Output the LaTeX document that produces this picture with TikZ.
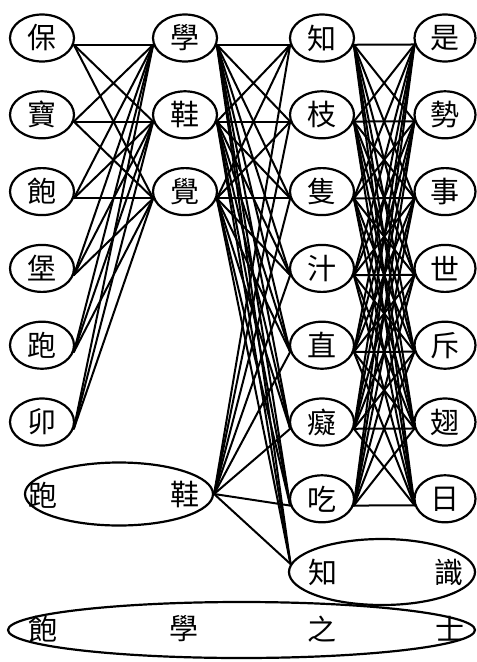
\documentclass[tikz,border=0pt]{standalone}
\usepackage{fontspec}
\newfontfamily\cjk{Noto Sans CJK TC}
\usetikzlibrary{shapes.geometric}

\tikzset{
  word/.style={ellipse, draw, line width=2.2pt, minimum width=64pt,
    minimum height=47pt, inner sep=0pt, font=\cjk\fontsize{29}{29}\selectfont},
  frame/.style={ellipse, draw, line width=2.2pt, inner sep=0pt},
  glyph/.style={inner sep=0pt, font=\cjk\fontsize{29}{29}\selectfont},
  link/.style={line width=2pt, line cap=round}
}

\begin{document}
\begin{tikzpicture}[x=1pt,y=-1pt]
  \useasboundingbox (0,0) rectangle (477,662);

  % first character candidates
  \foreach \t [count=\i from 0] in {保,寶,飽,堡,跑,卯}
    \node[word] (a\i) at (42, 38+76.8*\i) {\t};
  % second character candidates
  \foreach \t [count=\i from 0] in {學,鞋,覺}
    \node[word] (b\i) at (185, 38+76.8*\i) {\t};
  % third character candidates
  \foreach \t [count=\i from 0] in {知,枝,隻,汁,直,癡,吃}
    \node[word] (c\i) at (322, 38+76.8*\i) {\t};
  % fourth character candidates
  \foreach \t [count=\i from 0] in {是,勢,事,世,斥,翅,日}
    \node[word, minimum width=61pt] (d\i) at (445, 38+76.8*\i) {\t};

  % two-character words
  \node[frame, minimum width=188pt, minimum height=63pt] (bb) at (119,494) {};
  \node[glyph] (bbl) at (43,495) {跑};
  \node[glyph] (bbr) at (185,495) {鞋};

  \node[frame, minimum width=186pt, minimum height=66pt] (cc) at (382,572) {};
  \node[glyph] (ccl) at (323,572) {知};
  \node[glyph] (ccr) at (449,572) {識};

  % four-character word
  \node[frame, minimum width=467pt, minimum height=56pt] (ee) at (241.5,630) {};
  \node[glyph] (e1) at (43,629) {飽};
  \node[glyph] (e2) at (184,629) {學};
  \node[glyph] (e3) at (322,629) {之};
  \node[glyph] (e4) at (450,629) {士};

  % lattice edges
  \foreach \i in {0,...,5}
    \foreach \j in {0,1,2}
      \draw[link] (a\i.-12) -- (b\j.192);

  \foreach \i in {0,1,2} {
    \foreach \j in {0,...,6}
      \draw[link] (b\i.-12) -- (c\j.192);
    \draw[link] (b\i.-12) -- (cc.175);
  }
  \foreach \j in {0,...,6}
    \draw[link] (bb.east) -- (c\j.192);
  \draw[link] (bb.east) -- (cc.175);

  \foreach \i in {0,...,6}
    \foreach \j in {0,...,6}
      \draw[link] (c\i.-12) -- (d\j.192);
\end{tikzpicture}
\end{document}
